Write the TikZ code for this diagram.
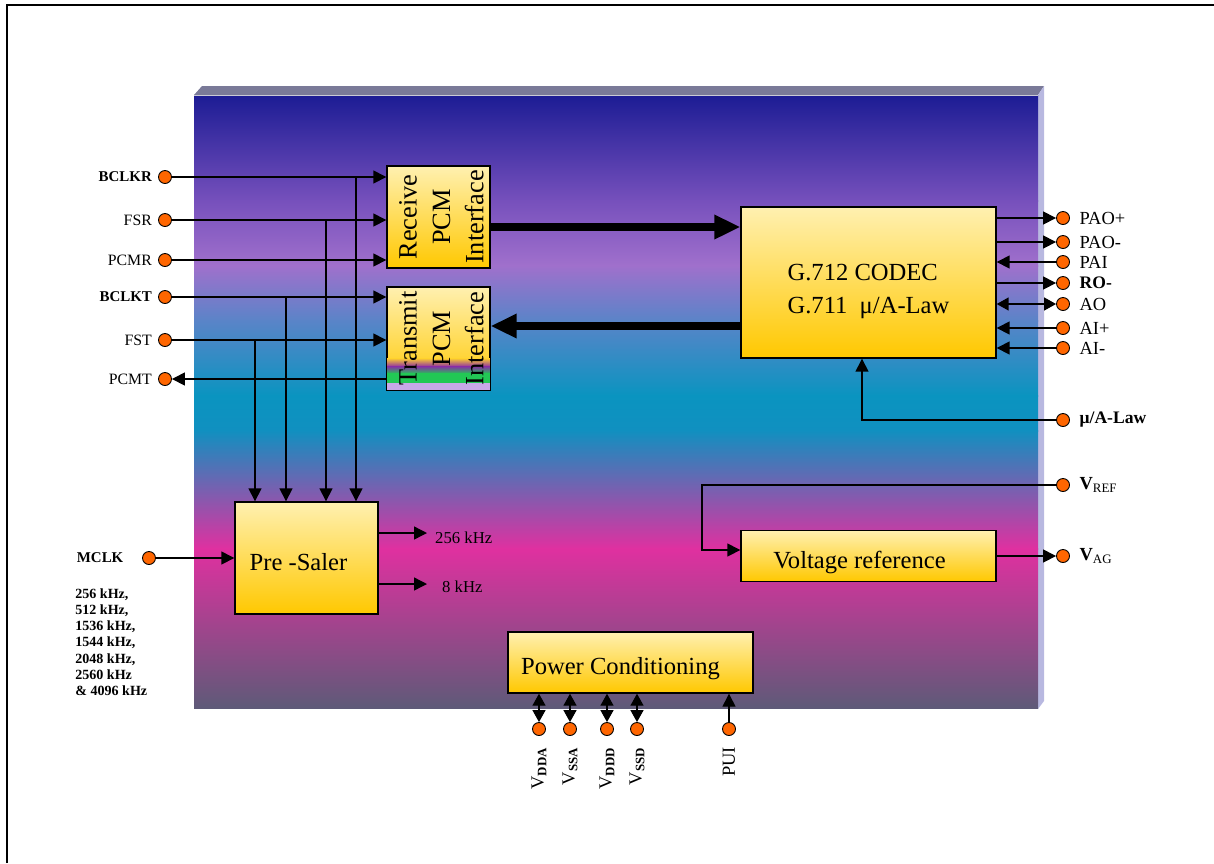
\documentclass[tikz,border=0pt]{standalone}
\usepackage{fontspec}
\setmainfont{Liberation Serif}
\usetikzlibrary{arrows.meta}

\definecolor{pinorange}{RGB}{255,102,0}
\definecolor{boxtop}{RGB}{255,240,176}
\definecolor{boxbot}{RGB}{255,200,0}
\definecolor{chipA}{RGB}{28,28,148}
\definecolor{chipB}{RGB}{118,80,188}
\definecolor{chipC}{RGB}{160,112,204}
\definecolor{chipD}{RGB}{90,132,200}
\definecolor{chipE}{RGB}{10,148,192}
\definecolor{chipF}{RGB}{16,144,192}
\definecolor{chipG}{RGB}{224,48,160}
\definecolor{chipH}{RGB}{94,90,120}
\definecolor{bevelgray}{RGB}{122,122,152}
\definecolor{sidelav}{RGB}{184,184,224}
\definecolor{stripepurple}{RGB}{138,42,168}
\definecolor{stripegreen}{RGB}{34,200,85}
\definecolor{stripelav}{RGB}{200,168,232}

\tikzset{
  port/.style={circle, draw=black, line width=0.5pt, fill=pinorange, inner sep=0pt, minimum size=0.26cm},
  blk/.style={draw=black, line width=0.8pt, top color=boxtop, bottom color=boxbot, inner sep=0pt},
  boxtxt/.style={font=\fontsize{14}{19}\selectfont},
  pcmtxt/.style={font=\fontsize{15}{19}\selectfont, align=center, rotate=90},
  sig/.style={line width=0.8pt, -{Triangle[length=0.26cm,width=0.26cm]}},
  dsig/.style={line width=0.8pt, {Triangle[length=0.24cm,width=0.26cm]}-{Triangle[length=0.24cm,width=0.26cm]}},
  bus/.style={line width=4pt, -{Triangle[length=0.52cm,width=0.46cm]}},
  lbl/.style={font=\fontsize{10.5}{12}\selectfont},
  lblb/.style={font=\fontsize{10}{12}\selectfont\bfseries},
  llbl/.style={font=\fontsize{9}{11}\selectfont},
  llblb/.style={font=\fontsize{8.5}{11}\selectfont\bfseries},
}

\begin{document}
\begin{tikzpicture}[x=0.02cm, y=-0.02cm]
	\useasboundingbox (0,0) rectangle (1214,863);
	% frame
	\draw [line width=1.2pt] (7,863) -- (7,5) -- (1214,5);

	% chip body
	\fill [bevelgray] (194,95) -- (202,86) -- (1044,86) -- (1038,95) -- cycle;
	\fill [sidelav] (1038,95) -- (1044,86) -- (1044,701) -- (1038,709) -- cycle;
	\foreach \ya/\yb/\ca/\cb in {95/201/chipA/chipB, 200/266/chipB/chipC, 265/321/chipC/chipD,
		320/396/chipD/chipE, 395/431/chipE/chipF, 430/549/chipF/chipG, 548/708/chipG/chipH}
		\shade [top color=\ca, bottom color=\cb] (194,\ya) rectangle (1038,\yb);
	\draw [white!60!bevelgray, line width=0.4pt] (194,95) -- (1038,95);

	% blocks
	\node [blk, minimum width=2.06cm, minimum height=2.04cm] (rx) at (438.5,217) {};
	\node [pcmtxt] (rxtxt) at ([xshift=0.06cm]rx.center) {Receive\\PCM\\Interface};
	\node [blk, minimum width=2.06cm, minimum height=2.06cm] (tx) at (438.5,338.5) {};
	\shade [top color=boxbot!75!boxtop, bottom color=stripepurple] (387,358) rectangle (490,367);
	\shade [top color=stripepurple, bottom color=stripegreen] (387,366) rectangle (490,374);
	\fill [stripegreen] (387,373) rectangle (490,384);
	\fill [stripelav] (387,383) rectangle (490,390);
	\draw [line width=0.8pt] (tx.north west) rectangle (tx.south east);
	\node [pcmtxt] (txtxt) at ([xshift=0.06cm]tx.center) {Transmit\\PCM\\Interface};

	\node [blk, minimum width=5.1cm, minimum height=3.02cm] (codec) at (868.5,282.5) {};
	\node [boxtxt, align=left] (codectxt) at (868.5,291.5) {G.712 CODEC\\G.711\ \ μ/A-Law};
	\node [blk, minimum width=2.86cm, minimum height=2.24cm] (presc) at (306.5,558) {};
	\node [boxtxt] (presctxt) at (298.5,562) {Pre -Saler};
	\node [blk, minimum width=5.1cm, minimum height=1.02cm] (vref) at (868.5,556) {};
	\node [boxtxt] (vreftxt) at (859.5,562) {Voltage reference};
	\node [blk, minimum width=4.9cm, minimum height=1.22cm] (power) at (630.5,662.5) {};
	\node [boxtxt] (powertxt) at (620.5,669) {Power Conditioning};

	% bus arrows
	\draw [bus] ([yshift=-0.2cm]rx.east) -- ([yshift=-0.2cm]rx.east -| codec.west);
	\draw [bus] ([yshift=0.25cm]tx.east -| codec.west) -- ([yshift=0.25cm]tx.east);

	% left pins
	\node [port, label={[llblb]left:BCLKR}] (bclkr) at (165,177) {};
	\node [port, label={[llbl]left:FSR}] (fsr) at (165,220) {};
	\node [port, label={[llbl]left:PCMR}] (pcmr) at (165,260) {};
	\node [port, label={[llblb]left:BCLKT}] (bclkt) at (165,297) {};
	\node [port, label={[llbl]left:FST}] (fst) at (165,340) {};
	\node [port, label={[llbl]left:PCMT}] (pcmt) at (165,379) {};
	\draw [sig] (bclkr.east) -- (bclkr -| rx.west);
	\draw [sig] (fsr.east) -- (fsr -| rx.west);
	\draw [sig] (pcmr.east) -- (pcmr -| rx.west);
	\draw [sig] (bclkt.east) -- (bclkt -| tx.west);
	\draw [sig] (fst.east) -- (fst -| tx.west);
	\draw [sig] (pcmt -| tx.west) -- (pcmt.east);

	% clocks down to the pre-scaler
	\coordinate (tapbr) at (356,177);
	\coordinate (tapfr) at (326,220);
	\coordinate (tapbt) at (286,297);
	\coordinate (tapft) at (255,340);
	\foreach \t in {tapbr,tapfr,tapbt,tapft}
		\draw [sig] (\t) -- (\t |- presc.north);

	% master clock
	\node [port, label={[llblb, label distance=0.25cm]left:MCLK}] (mclk) at (149,558) {};
	\draw [sig] (mclk.east) -- (mclk -| presc.west);
	\node [font=\fontsize{8}{9.25}\selectfont\bfseries, align=left, anchor=north west, inner sep=0pt]
		(mclkfreq) at (75,588) {256 kHz,\\512 kHz,\\1536 kHz,\\1544 kHz,\\2048 kHz,\\2560 kHz\\\& 4096 kHz};

	% pre-scaler outputs
	\coordinate (f256) at (427,533);
	\coordinate (f8) at (427,584);
	\draw [sig] (f256 -| presc.east) -- (f256);
	\draw [sig] (f8 -| presc.east) -- (f8);
	\node [font=\fontsize{9.5}{11}\selectfont, anchor=west] (f256lbl) at ([xshift=0.04cm,yshift=-0.1cm]f256) {256 kHz};
	\node [font=\fontsize{9.5}{11}\selectfont, anchor=west] (f8lbl) at ([xshift=0.18cm,yshift=-0.06cm]f8) {8 kHz};

	% right pins
	\node [port, label={[lbl, label distance=0.07cm]right:PAO+}] (paop) at (1063,218) {};
	\node [port, label={[lbl, label distance=0.07cm]right:PAO-}] (paom) at (1063,242) {};
	\node [port, label={[lbl, label distance=0.07cm]right:PAI}] (pai) at (1063,262) {};
	\node [port, label={[lblb, label distance=0.07cm]right:RO-}] (rom) at (1063,283) {};
	\node [port, label={[lbl, label distance=0.07cm]right:AO}] (ao) at (1063,304) {};
	\node [port, label={[lbl, label distance=0.07cm]right:AI+}] (aip) at (1063,328) {};
	\node [port, label={[lbl, label distance=0.07cm]right:AI-}] (aim) at (1063,348) {};
	\node [port, label={[lblb, label distance=0.07cm]right:μ/A-Law}] (mulaw) at (1063,420) {};
	\draw [sig] (paop -| codec.east) -- (paop.west);
	\draw [sig] (paom -| codec.east) -- (paom.west);
	\draw [sig] (pai.west) -- (pai -| codec.east);
	\draw [sig] (rom -| codec.east) -- (rom.west);
	\draw [dsig] (ao -| codec.east) -- (ao.west);
	\draw [sig] (aip.west) -- (aip -| codec.east);
	\draw [sig] (aim.west) -- (aim -| codec.east);
	\draw [sig] (mulaw.west) -| ([xshift=-0.13cm]codec.south);

	% reference voltages
	\node [port, label={[lbl, label distance=0.07cm]right:\textbf{V}\textsubscript{REF}}] (vrefp) at (1063,485) {};
	\node [port, label={[lbl, label distance=0.07cm]right:\textbf{V}\textsubscript{AG}}] (vag) at (1063,556) {};
	\coordinate (vrbend) at (702,485);
	\draw [sig] (vrefp.west) -- (vrbend) |- ([yshift=0.12cm]vref.west);
	\draw [sig] (vag -| vref.east) -- (vag.west);

	% supply pins
	\node [port] (vdda) at (539,729) {};
	\node [port] (vssa) at (570,729) {};
	\node [port] (vddd) at (607,729) {};
	\node [port] (vssd) at (637,729) {};
	\node [port] (pui) at (729,729) {};
	\foreach \p in {vdda,vssa,vddd,vssd}
		\draw [dsig] (\p.north) -- (\p |- power.south);
	\draw [sig] (pui.north) -- (pui |- power.south);
	\node [lbl, rotate=90, anchor=east] (vddalbl) at ([yshift=-0.1cm]vdda.south) {V\textsubscript{\textbf{DDA}}};
	\node [lbl, rotate=90, anchor=east] (vssalbl) at ([yshift=-0.1cm]vssa.south) {V\textsubscript{\textbf{SSA}}};
	\node [lbl, rotate=90, anchor=east] (vdddlbl) at ([yshift=-0.1cm]vddd.south) {V\textsubscript{\textbf{DDD}}};
	\node [lbl, rotate=90, anchor=east] (vssdlbl) at ([yshift=-0.1cm]vssd.south) {V\textsubscript{\textbf{SSD}}};
	\node [lbl, rotate=90, anchor=east] (puilbl) at ([yshift=-0.1cm]pui.south) {PUI};
\end{tikzpicture}
\end{document}
